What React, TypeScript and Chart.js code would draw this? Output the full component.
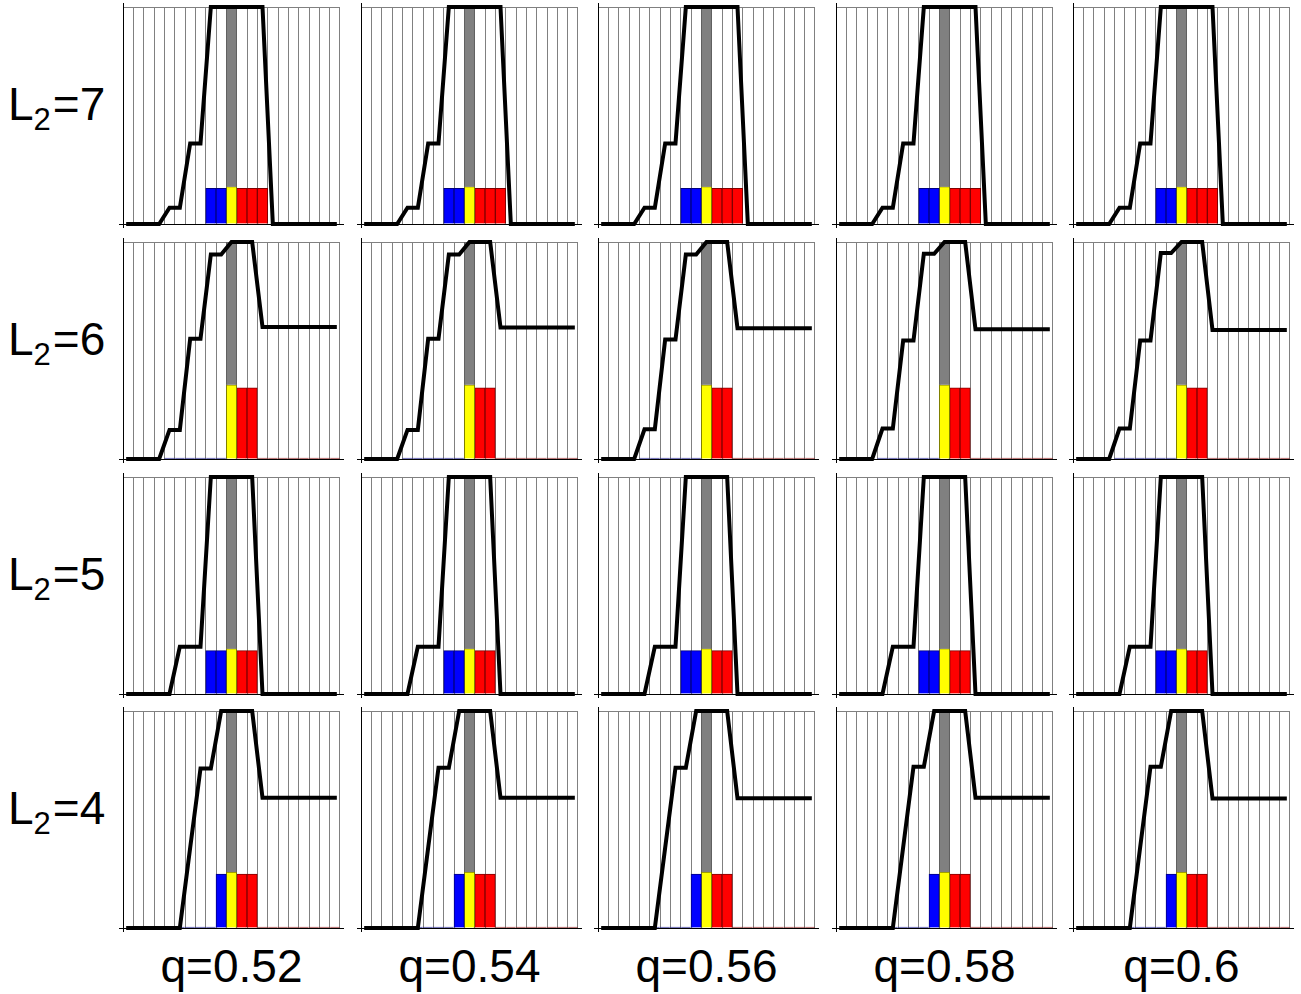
import React, { useEffect, useRef } from 'react';
import { Chart, registerables } from 'chart.js';

Chart.register(...registerables);

const _ = null;

// ---------- data ----------
const categories = ['1', '2', '3', '4', '5', '6', '7', '8', '9', '10', '11', '12', '13', '14', '15', '16', '17', '18', '19', '20', '21'];
const qLabels = ['q=0.52', 'q=0.54', 'q=0.56', 'q=0.58', 'q=0.6'];
const rowNumbers = ['7', '6', '5', '4'];

// L2 = 7
const line7 = [0, 0, 0, 0, 0.075, 0.075, 0.371, 0.371, 1, 1, 1, 1, 1, 1, 0, 0, 0, 0, 0, 0, 0];
const blue7 = [_, _, _, _, _, _, _, _, 0.164, 0.164, _, _, _, _, _, _, _, _, _, _, _];
const yellow7 = [_, _, _, _, _, _, _, _, _, _, 0.172, _, _, _, _, _, _, _, _, _, _];
const red7 = [_, _, _, _, _, _, _, _, _, _, _, 0.164, 0.164, 0.164, _, _, _, _, _, _, _];
const gray7 = [_, _, _, _, _, _, _, _, _, _, [0.172, 1], _, _, _, _, _, _, _, _, _, _];

// L2 = 6 (one line per q)
const line6_052 = [0, 0, 0, 0, 0.134, 0.134, 0.554, 0.554, 0.942, 0.942, 1, 1, 1, 0.608, 0.608, 0.608, 0.608, 0.608, 0.608, 0.608, 0.608];
const line6_054 = [0, 0, 0, 0, 0.134, 0.134, 0.554, 0.554, 0.942, 0.942, 1, 1, 1, 0.606, 0.606, 0.606, 0.606, 0.606, 0.606, 0.606, 0.606];
const line6_056 = [0, 0, 0, 0, 0.137, 0.137, 0.551, 0.551, 0.942, 0.942, 1, 1, 1, 0.603, 0.603, 0.603, 0.603, 0.603, 0.603, 0.603, 0.603];
const line6_058 = [0, 0, 0, 0, 0.14, 0.14, 0.546, 0.546, 0.946, 0.946, 1, 1, 1, 0.598, 0.598, 0.598, 0.598, 0.598, 0.598, 0.598, 0.598];
const line6_060 = [0, 0, 0, 0, 0.14, 0.14, 0.546, 0.546, 0.949, 0.949, 1, 1, 1, 0.595, 0.595, 0.595, 0.595, 0.595, 0.595, 0.595, 0.595];
const blue6 = [_, _, _, _, 0, 0, 0, 0, 0, 0, _, _, _, _, _, _, _, _, _, _, _];
const yellow6 = [_, _, _, _, _, _, _, _, _, _, 0.342, _, _, _, _, _, _, _, _, _, _];
const red6 = [_, _, _, _, _, _, _, _, _, _, _, 0.328, 0.328, 0, 0, 0, 0, 0, 0, 0, 0];
const gray6 = [_, _, _, _, _, _, _, _, _, _, [0.342, 1], _, _, _, _, _, _, _, _, _, _];

// L2 = 5
const line5 = [0, 0, 0, 0, 0, 0.218, 0.218, 0.218, 1, 1, 1, 1, 1, 0, 0, 0, 0, 0, 0, 0, 0];
const blue5 = [_, _, _, _, _, _, _, _, 0.2, 0.2, _, _, _, _, _, _, _, _, _, _, _];
const yellow5 = [_, _, _, _, _, _, _, _, _, _, 0.209, _, _, _, _, _, _, _, _, _, _];
const red5 = [_, _, _, _, _, _, _, _, _, _, _, 0.2, 0.2, _, _, _, _, _, _, _, _];
const gray5 = [_, _, _, _, _, _, _, _, _, _, [0.209, 1], _, _, _, _, _, _, _, _, _, _];

// L2 = 4 (one line per q)
const line4_052 = [0, 0, 0, 0, 0, 0, 0.37, 0.735, 0.735, 1, 1, 1, 1, 0.6, 0.6, 0.6, 0.6, 0.6, 0.6, 0.6, 0.6];
const line4_054 = [0, 0, 0, 0, 0, 0, 0.37, 0.738, 0.738, 1, 1, 1, 1, 0.6, 0.6, 0.6, 0.6, 0.6, 0.6, 0.6, 0.6];
const line4_056 = [0, 0, 0, 0, 0, 0, 0.37, 0.738, 0.738, 1, 1, 1, 1, 0.598, 0.598, 0.598, 0.598, 0.598, 0.598, 0.598, 0.598];
const line4_058 = [0, 0, 0, 0, 0, 0, 0.372, 0.743, 0.743, 1, 1, 1, 1, 0.6, 0.6, 0.6, 0.6, 0.6, 0.6, 0.6, 0.6];
const line4_060 = [0, 0, 0, 0, 0, 0, 0.372, 0.743, 0.743, 1, 1, 1, 1, 0.597, 0.597, 0.597, 0.597, 0.597, 0.597, 0.597, 0.597];
const blue4 = [_, _, _, _, _, 0, 0, 0, 0, 0.248, _, _, _, _, _, _, _, _, _, _, _];
const yellow4 = [_, _, _, _, _, _, _, _, _, _, 0.258, _, _, _, _, _, _, _, _, _, _];
const red4 = [_, _, _, _, _, _, _, _, _, _, _, 0.248, 0.248, 0, 0, 0, 0, 0, 0, 0, 0];
const gray4 = [_, _, _, _, _, _, _, _, _, _, [0.258, 1], _, _, _, _, _, _, _, _, _, _];

const rows = [
  { lines: [line7, line7, line7, line7, line7], blue: blue7, yellow: yellow7, red: red7, gray: gray7 },
  { lines: [line6_052, line6_054, line6_056, line6_058, line6_060], blue: blue6, yellow: yellow6, red: red6, gray: gray6 },
  { lines: [line5, line5, line5, line5, line5], blue: blue5, yellow: yellow5, red: red5, gray: gray5 },
  { lines: [line4_052, line4_054, line4_056, line4_058, line4_060], blue: blue4, yellow: yellow4, red: red4, gray: gray4 },
];

// ---------- layout ----------
const AREA = 217;
const PAD = 10;
const colLefts = [123, 361, 598, 836, 1073];
const rowTops = [7, 242, 477, 711];
const FONT = '"Liberation Sans", Arial, sans-serif';
const FS = 46;
const BASE = (FS - FS * 1.117) / 2 + FS * 0.905; // baseline offset inside line box

const axisExtend = {
  id: 'axisExtend',
  afterDraw(chart: any) {
    const { ctx, chartArea: a } = chart;
    const x = Math.round(a.left) + 0.5;
    const y = Math.round(a.bottom) + 0.5;
    ctx.save();
    ctx.strokeStyle = '#000';
    ctx.lineWidth = 1;
    ctx.beginPath();
    ctx.moveTo(x, a.top - 4);
    ctx.lineTo(x, a.bottom + 4);
    ctx.moveTo(a.left - 4, y);
    ctx.lineTo(a.right + 4, y);
    ctx.stroke();
    ctx.restore();
  },
};

function barSet(data: any[], bg: string, border: string) {
  return {
    type: 'bar',
    data,
    backgroundColor: (c: any) => (c.raw === 0 ? border : bg),
    borderColor: border,
    borderWidth: 1,
    borderSkipped: 'start',
    grouped: false,
    barPercentage: 1,
    categoryPercentage: 1,
    minBarLength: 1,
    order: 1,
  };
}

function Panel({ row, col }: { row: number; col: number }) {
  const ref = useRef<HTMLCanvasElement>(null);
  useEffect(() => {
    const r = rows[row];
    const chart = new Chart(ref.current as HTMLCanvasElement, {
      type: 'bar',
      data: {
        labels: categories,
        datasets: [
          {
            type: 'line',
            data: r.lines[col],
            borderColor: '#000',
            borderWidth: 4,
            pointRadius: 0,
            tension: 0,
            borderCapStyle: 'square',
            borderJoinStyle: 'miter',
            clip: false,
            order: 0,
          },
          barSet(r.gray, '#808080', '#606060'),
          barSet(r.blue, '#0000ff', '#000080'),
          barSet(r.yellow, '#ffff00', '#808000'),
          barSet(r.red, '#ff0000', '#800000'),
        ] as any,
      },
      options: {
        responsive: false,
        animation: false,
        events: [],
        layout: { padding: PAD },
        plugins: { legend: { display: false }, tooltip: { enabled: false } },
        scales: {
          x: {
            offset: true,
            grid: { offset: true, color: '#808080', lineWidth: 1, drawTicks: false },
            ticks: { display: false },
            border: { display: false },
          },
          y: {
            min: 0,
            max: 1,
            ticks: { display: false, stepSize: 1 },
            grid: { color: '#808080', lineWidth: 1, drawTicks: false },
            border: { display: false },
          },
        },
      } as any,
      plugins: [axisExtend],
    });
    return () => chart.destroy();
  }, [row, col]);
  const size = AREA + 2 * PAD;
  return (
    <canvas
      ref={ref}
      width={size}
      height={size}
      style={{ position: 'absolute', left: colLefts[col] - PAD, top: rowTops[row] - PAD, width: size, height: size }}
    />
  );
}

export default function App() {
  const panels: JSX.Element[] = [];
  for (let r = 0; r < 4; r++) for (let c = 0; c < 5; c++) panels.push(<Panel key={`${r}-${c}`} row={r} col={c} />);
  return (
    <div style={{ position: 'absolute', left: 0, top: 0, width: 1301, height: 994, background: '#fff', fontFamily: FONT }}>
      {panels}
      {rowNumbers.map((n, r) => (
        <div
          key={'r' + n}
          style={{ position: 'absolute', left: 8, top: rowTops[r] + AREA / 2 + 4.5 - BASE, fontSize: FS, lineHeight: FS + 'px', whiteSpace: 'nowrap', color: '#000' }}
        >
          L<span style={{ fontSize: 31, verticalAlign: -10, marginRight: 2 }}>2</span>={n}
        </div>
      ))}
      {qLabels.map((q, c) => (
        <div
          key={q}
          style={{ position: 'absolute', left: colLefts[c] + AREA / 2 - 118, width: 236, textAlign: 'center', top: 982 - BASE, fontSize: FS, lineHeight: FS + 'px', whiteSpace: 'nowrap', color: '#000' }}
        >
          {q}
        </div>
      ))}
    </div>
  );
}
